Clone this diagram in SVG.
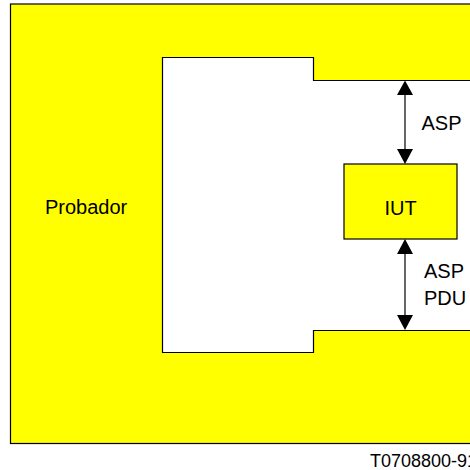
<svg xmlns="http://www.w3.org/2000/svg" width="470" height="470" viewBox="0 0 470 470">
<style>
.box{stroke:#000;stroke-width:1.2}
.t{font-family:"Liberation Sans",Arial,sans-serif;font-size:20px;fill:#000}
.conn{stroke:#000;stroke-width:1.2;fill:none}
.head{fill:#000}
</style>
<rect width="470" height="470" fill="#fff"/>
<g id="probador">
<rect class="box" x="10.5" y="4" width="470" height="439.5" fill="#ffff00"/>
<path class="box" d="M162.5 57.5 H313.5 V80.5 H480 V330.5 H313.5 V352.5 H162.5 Z" fill="#fff"/>
<text class="t" x="45" y="214">Probador</text>
</g>
<g id="iut">
<rect class="box" x="344" y="164" width="113" height="75" fill="#ffff00"/>
<text class="t" x="400.5" y="215" text-anchor="middle">IUT</text>
</g>
<g id="connectors">
<line class="conn" x1="405" y1="94" x2="405" y2="150"/>
<polygon class="head" points="405,80.5 397,95 413,95"/>
<polygon class="head" points="405,164 397,149 413,149"/>
<line class="conn" x1="405" y1="253" x2="405" y2="316"/>
<polygon class="head" points="405,239 397,254 413,254"/>
<polygon class="head" points="405,330 397,315 413,315"/>
<text class="t" x="421.5" y="129.5">ASP</text>
<text class="t" x="424" y="278">ASP</text>
<text class="t" x="424" y="305">PDU</text>
</g>
<text x="370" y="467" style="font-family:'Liberation Sans',Arial,sans-serif;font-size:18px;fill:#000">T0708800-91</text>
</svg>
